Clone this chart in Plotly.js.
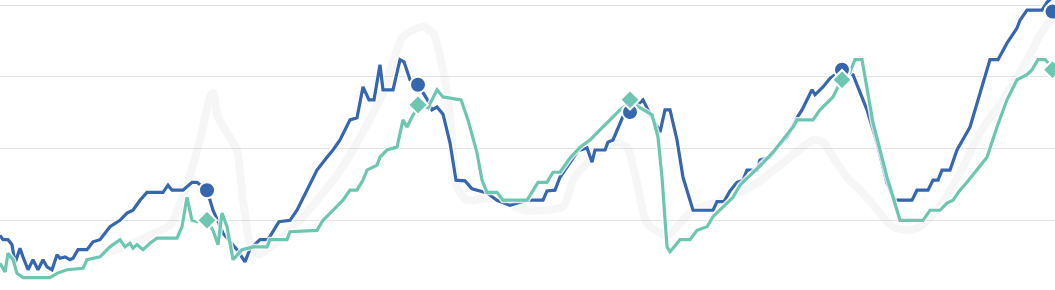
<!DOCTYPE html>
<html>
<head>
<meta charset="utf-8">
<script src="https://cdn.plot.ly/plotly-3.0.1.min.js"></script>
<style>html,body{margin:0;padding:0;background:#fff;}#chart{width:1055px;height:290px;}</style>
</head>
<body>
<div id="chart"></div>
<script>
// week index (x) and value (y)
const blueT = [0,0.6,1.6,2.4,3,4,4.6,5.6,6.6,7.6,8.6,9.4,10.4,11.4,12,13,14,14.6,15.6,17.4,18.6,20,22,24,25.4,26.6,28,29.4,32.6,33.6,34.4,36.6,38.4,39.4,41.4,42.6,44.6,47.4,49,50,52,53.6,55.8,58,59.4,61.4,63.4,65.4,66.6,68,70,71.4,72.6,73.8,74.8,76,76.6,78.6,80,80.8,82,83.6,85.4,86.4,87.4,88.6,90,91.2,93,94.4,96.6,97.4,99.4,102,105.4,108.6,109.4,111,112,114,115.6,117.4,118.4,119,121,121.6,122.6,124.6,126,128.6,129.6,132,133,134,135.4,136.6,138.6,142.6,143.4,144.8,146,147.4,148.6,149.4,151.4,152,154,155.4,157.4,159.4,160.4,162.4,163,164.6,166,168.4,170.6,173.4,175.4,177.4,179,182.4,183.4,185.6,186.6,187.6,188.4,190,191.4,194,196,198,199.6,201.4,203.4,204,205.4,208.4,209.4,212];
const blueV = [7.9,7.3,7.3,6.6,4.0,6.1,4.9,3.1,4.5,3.1,4.5,3.5,3.1,5.2,4.7,4.9,4.5,4.7,5.9,5.9,7.0,7.3,9.1,10.0,11.0,11.4,12.8,13.9,13.9,14.9,14.2,14.2,15.3,15.3,14.2,11.4,8.2,5.9,4.2,6.0,7.3,7.3,9.8,10.0,11.4,14.1,17.0,18.8,19.8,21.2,24.0,24.3,28.6,26.8,26.8,31.7,28.2,28.2,32.4,32.1,29.6,28.9,26.9,25.4,25.8,24.8,20.8,15.6,15.5,14.4,13.9,13.8,12.8,12.1,12.8,12.8,14.1,14.2,16.0,18.0,19.7,20.1,18.1,19.8,19.8,20.9,21.2,24.5,25.1,26.8,25.4,22.3,25.4,25.4,21.2,16.0,11.4,11.4,12.6,12.6,14.1,15.3,15.6,17.0,17.0,18.4,18.8,20.1,21.6,24.3,25.4,28.2,27.5,28.6,29.8,31.0,30.3,25.4,20.8,15.2,12.8,12.8,14.2,14.2,15.6,15.6,17.0,17.0,19.8,23.0,27.8,32.4,32.4,34.7,36.8,37.9,39.3,39.3,40.4,42.1];

const tealT = [0,1,1.6,2.6,3.4,4.6,10,11.4,13.4,16.6,17.4,20,22,24,25,26,26.6,27.4,28.6,30,31.4,35.4,36.4,37.4,38.4,39.4,41.4,42.6,43.6,44.4,45.4,46.6,48.4,50.6,53.4,54,57.4,58,63.4,64.6,66.6,68.6,70,71.4,72.6,73.4,75.4,76,77.4,79.4,80.6,81.4,82.4,83.8,85.6,87.4,88.6,92.2,93.6,95.4,96.4,97.4,99.4,100.6,105.4,106.6,107.6,109.4,110.6,112,114,116,118,120,122,124,126,128,130.4,131.6,132.4,133.4,134,136,138,139.4,141.4,142.6,144.6,146.6,148,150.6,152.6,154.6,156.6,158.6,159.4,162.6,164,166.6,167.6,168.6,170,171,172.4,174.6,177.4,180,184.6,186,188,189.4,190.6,192,193.4,195.4,197.4,199.4,201.4,203.4,205.4,206.4,207.6,209,211];
const tealV = [4.0,2.8,5.4,4.5,2.6,2.0,2.0,2.6,3.1,3.3,4.5,4.9,6.3,7.3,6.3,6.8,6.1,6.6,5.9,6.8,7.5,7.5,9.1,13.2,10.0,9.8,10.0,8.6,6.6,11.0,9.1,4.5,5.9,6.3,6.3,7.3,7.3,8.4,8.6,10.0,11.4,12.8,14.2,14.2,15.6,17.0,17.7,18.8,19.8,20.2,24.0,23.0,24.4,26.1,25.7,28.2,27.2,26.8,24.0,19.4,15.6,13.9,13.9,12.8,12.8,14.2,15.3,15.3,16.7,16.7,18.7,20.2,21.2,22.6,24.0,25.4,26.5,25.7,24.7,21.6,16.0,6.3,5.6,7.3,7.3,8.6,9.1,10.5,11.9,13.2,14.9,16.6,18.0,19.5,21.2,23.0,24.0,24.0,25.4,27.2,28.6,29.6,30.7,32.4,32.4,23.6,16.0,10.0,10.0,11.4,11.4,12.4,12.8,14.2,15.3,17.0,18.8,23.0,26.8,29.6,30.3,31.0,32.4,32.4,31.0];

const grayT = [20,26,30,34,37,40,42,42.6,43.6,45.4,47.4,48.6,50,51.6,56,60,63.4,67.4,71.4,76.6,80.6,84.6,86.6,88.6,90,91.4,93.4,99.4,104.6,112.6,114.6,117.4,122.6,125.4,127.4,129.4,133.4,138.6,144.6,151.4,158,162.6,164.6,166.6,169.4,172.6,176,178.6,181.4,184,188,192,196,200.6,205.4,208.6,211];
const grayV = [5.2,6.6,7.9,9.3,14.2,21.2,27.2,27.8,24.4,22.2,19.8,12.8,6.8,5.2,7.3,10.0,12.8,16.3,20.8,27.8,35.6,37.0,36.1,31.0,24.4,14.6,12.8,13.2,11.4,11.9,15.6,18.0,20.8,20.2,15.2,9.6,7.9,11.4,12.8,15.2,18.8,21.2,20.9,18.8,16.0,13.8,11.0,9.1,8.6,9.1,11.9,16.6,22.2,26.8,32.4,36.5,38.6];

const markT = [41.4,83.6,126,168.4,210.5];
const blueMarkV = [14.2,28.9,25.1,31.0,39.1];
const tealMarkV = [10.0,26.1,26.8,29.6,31.0];

const BLUE = '#3566ae';
const TEAL = '#6cc6b0';

const traces = [
  {x: grayT, y: grayV, mode: 'lines', line: {color: 'rgba(200,200,200,0.16)', width: 8, shape: 'spline', smoothing: 0.6}, hoverinfo: 'skip'},
  {x: blueT, y: blueV, mode: 'lines', line: {color: 'rgba(255,255,255,0.8)', width: 6}, hoverinfo: 'skip'},
  {x: blueT, y: blueV, mode: 'lines', line: {color: BLUE, width: 3.2}},
  {x: tealT, y: tealV, mode: 'lines', line: {color: 'rgba(255,255,255,0.8)', width: 6}, hoverinfo: 'skip'},
  {x: tealT, y: tealV, mode: 'lines', line: {color: TEAL, width: 3.2}},
  {x: markT, y: blueMarkV, mode: 'markers', marker: {symbol: 'circle', size: 16, color: BLUE, line: {color: '#ffffff', width: 2}}},
  {x: markT, y: tealMarkV, mode: 'markers', marker: {symbol: 'diamond', size: 15, color: TEAL, line: {color: '#ffffff', width: 2}}}
];

const layout = {
  width: 1055, height: 290,
  margin: {l: 0, r: 0, t: 0, b: 0},
  paper_bgcolor: '#ffffff', plot_bgcolor: '#ffffff',
  showlegend: false,
  xaxis: {range: [0, 211], showgrid: false, zeroline: false, showticklabels: false, ticks: '', showline: false},
  yaxis: {range: [0.28, 40.72], tick0: 0, dtick: 10, showgrid: true, gridcolor: '#e2e2e2', gridwidth: 1, zeroline: false, showticklabels: false, ticks: '', showline: false}
};

Plotly.newPlot('chart', traces, layout, {staticPlot: true, displayModeBar: false});
</script>
</body>
</html>
